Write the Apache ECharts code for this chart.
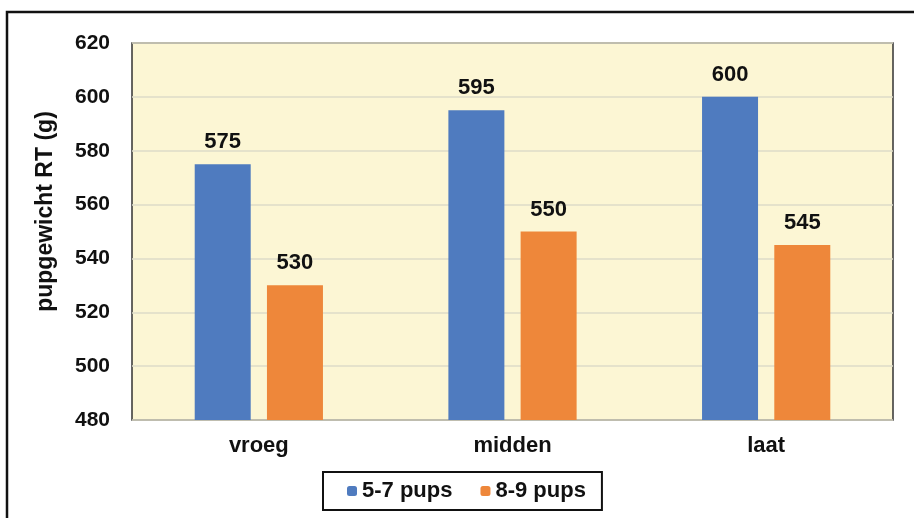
<!DOCTYPE html>
<html>
<head>
<meta charset="utf-8">
<script src="https://cdn.jsdelivr.net/npm/echarts@6/dist/echarts.min.js"></script>
<style>
html, body { margin: 0; padding: 0; background: #fff; }
#chart { width: 914px; height: 518px; }
</style>
</head>
<body>
<div id="chart"></div>
<script>
var categories = ['vroeg', 'midden', 'laat'];
var pups57 = [575, 595, 600];
var pups89 = [530, 550, 545];

var myChart = echarts.init(document.getElementById('chart'));
var font = 'Liberation Sans, Arial, sans-serif';

var option = {
    animation: false,
    backgroundColor: '#fff',
    graphic: [
        {
            type: 'rect',
            shape: { x: 7, y: 12, width: 930, height: 540 },
            style: { fill: 'none', stroke: '#111', lineWidth: 2.5 },
            z: 100
        }
    ],
    grid: {
        left: 132,
        right: 21,
        top: 43,
        bottom: 98,
        show: true,
        backgroundColor: '#FCF6D4',
        borderColor: '#333',
        borderWidth: 1.5
    },
    legend: {
        data: ['5-7 pups', '8-9 pups'],
        left: 323,
        top: 472,
        padding: [8, 16, 8, 24],
        itemWidth: 10,
        itemHeight: 10,
        itemGap: 28,
        borderColor: '#111',
        borderWidth: 2,
        textStyle: { fontFamily: font, fontWeight: 'bold', fontSize: 22, color: '#111' }
    },
    xAxis: {
        type: 'category',
        data: categories,
        axisTick: { show: false },
        axisLine: { show: false },
        axisLabel: {
            margin: 15,
            fontFamily: font, fontWeight: 'bold', fontSize: 22, color: '#111'
        }
    },
    yAxis: {
        type: 'value',
        min: 480,
        max: 620,
        interval: 20,
        name: 'pupgewicht RT (g)',
        nameLocation: 'middle',
        nameGap: 75,
        nameRotate: 90,
        nameTextStyle: {
            fontFamily: font, fontWeight: 'bold', fontSize: 23, color: '#111',
            padding: [0, 0, 0, 40]
        },
        axisLine: { show: false },
        axisTick: { show: false },
        splitLine: { lineStyle: { color: '#DEDBC8', width: 1.5 } },
        axisLabel: {
            margin: 22,
            fontFamily: font, fontWeight: 'bold', fontSize: 21, color: '#111'
        }
    },
    series: [
        {
            name: '5-7 pups',
            type: 'bar',
            data: pups57,
            barWidth: 56,
            barGap: '29%',
            itemStyle: { color: '#4F7BBF' },
            label: {
                show: true, position: 'top', distance: 11,
                fontFamily: font, fontWeight: 'bold', fontSize: 22, color: '#111'
            }
        },
        {
            name: '8-9 pups',
            type: 'bar',
            data: pups89,
            barWidth: 56,
            barGap: '29%',
            itemStyle: { color: '#EE873A' },
            label: {
                show: true, position: 'top', distance: 11,
                fontFamily: font, fontWeight: 'bold', fontSize: 22, color: '#111'
            }
        }
    ]
};

myChart.setOption(option);
</script>
</body>
</html>
